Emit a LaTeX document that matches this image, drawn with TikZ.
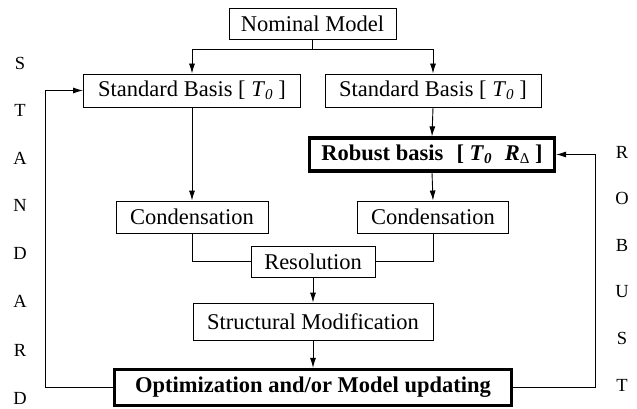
\documentclass[tikz,border=0pt]{standalone}
\usepackage{fontspec}
\setmainfont{Liberation Serif}
\usetikzlibrary{arrows.meta}
\newcommand{\subsc}[1]{\raisebox{-0.3ex}{\fontsize{15}{15}\selectfont #1}}
\begin{document}
\begin{tikzpicture}[x=1pt,y=-1pt,
  every node/.style={font=\fontsize{22.5}{24}\selectfont},
  box/.style={draw,line width=0.9pt,inner sep=0pt,rectangle},
  bbox/.style={draw,line width=3.2pt,inner sep=0pt,rectangle},
  arr/.style={-{Latex[length=10pt,width=6pt]}},
  ln/.style={line width=0.9pt},
  side/.style={font=\fontsize{18.5}{19}\selectfont,inner sep=0pt}]
\useasboundingbox (0,0) rectangle (637,409);
\node[box,minimum width=167pt,minimum height=31pt] (nom) at (312.5,23.5) {Nominal Model};
\node[box,minimum width=217pt,minimum height=33pt] (sbl) at (192,90.5) {Standard Basis [ \textit{T}\subsc{\textit{0}} ]};
\node[box,minimum width=216pt,minimum height=33pt] (sbr) at (433,90.5) {Standard Basis [ \textit{T}\subsc{\textit{0}} ]};
\node[bbox,minimum width=245pt,minimum height=33pt] (rob) at (432,154.5) {\textbf{Robust basis\,\, [ \textit{T}\subsc{\textit{0}}\,\, \textit{R}\subsc{\textnormal{Δ}} ]}};
\node[box,minimum width=152pt,minimum height=32pt] (cdl) at (192,217) {Condensation};
\node[box,minimum width=151pt,minimum height=32pt] (cdr) at (433,217) {Condensation};
\node[box,minimum width=124pt,minimum height=31pt] (res) at (313,261.5) {Resolution};
\node[box,minimum width=240pt,minimum height=37pt] (str) at (313,321.5) {Structural Modification};
\node[bbox,minimum width=397pt,minimum height=36pt] (opt) at (313,387.5) {\textbf{Optimization and/or Model updating}};
\coordinate (br) at (312.5,49);
\coordinate (lf) at (45,0);
\coordinate (rf) at (595,0);
\draw[ln] (nom.south) -- (br);
\draw[ln,arr] (br) -| (sbl.north);
\draw[ln,arr] (br) -| (sbr.north);
\draw[ln,arr] (sbl.south) -- (cdl.north);
\draw[ln,arr] (sbr.south) -- (rob.north);
\draw[ln,arr] (rob.south) -- (cdr.north);
\draw[ln] (cdl.south) |- (res.west);
\draw[ln] (cdr.south) |- (res.east);
\draw[ln,arr] (res.south) -- (str.north);
\draw[ln,arr] (str.south) -- (opt.north);
\draw[ln,arr] (opt.west) -- (opt.west -| lf) |- (sbl.west);
\draw[ln,arr] (opt.east) -- (opt.east -| rf) |- (rob.east);
\foreach \l/\y [count=\i] in {S/63,T/110.5,A/158,N/205.5,D/253,A/301,R/350,D/398}
  \node[side] (ls\i) at (20,\y) {\l};
\foreach \l/\y [count=\i] in {R/152,O/198.5,B/245,U/291.5,S/338,T/385}
  \node[side] (rs\i) at (622,\y) {\l};
\end{tikzpicture}
\end{document}
